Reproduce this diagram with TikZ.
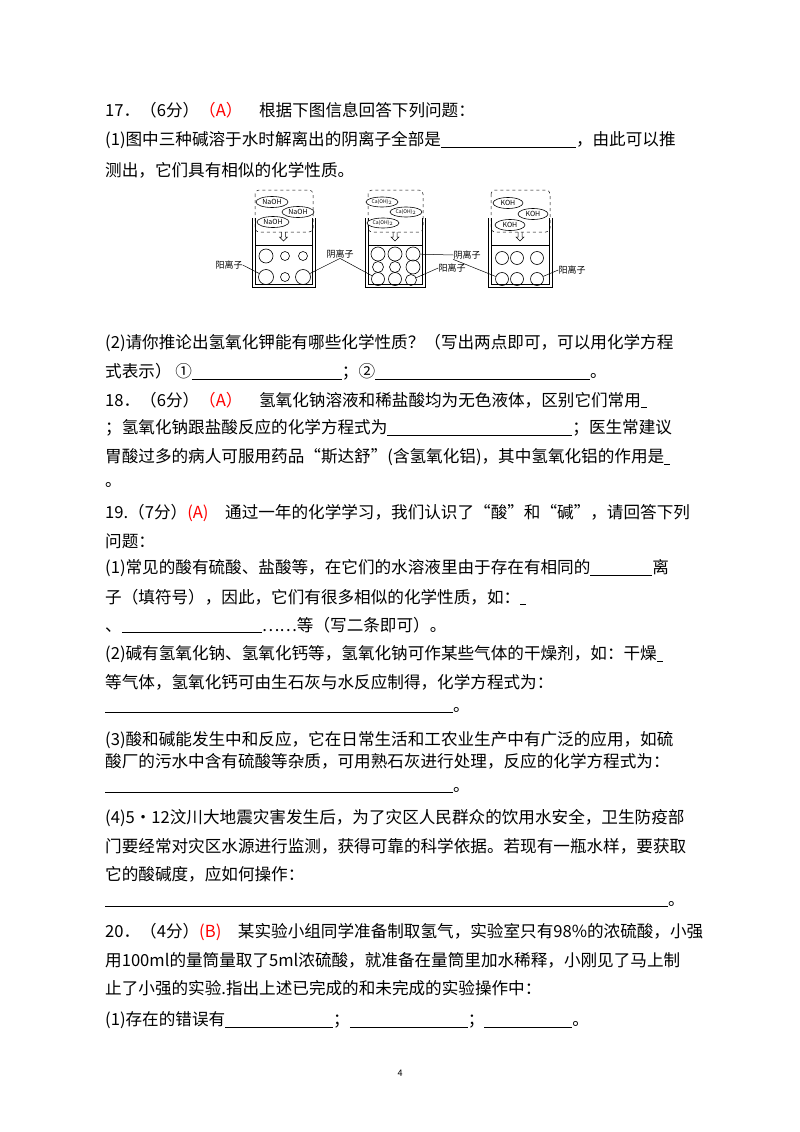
\documentclass[tikz,border=0pt]{standalone}
\usepackage{fontspec}
\usetikzlibrary{shapes.geometric}
\setmainfont{Noto Sans CJK SC}
\newcommand{\blk}[1]{\underline{\hspace{#1pt}}}
\begin{document}
\begin{tikzpicture}[x=1pt,y=-1pt,
  ln/.style={anchor=west,inner sep=0pt,font=\fontsize{16.6}{18}\selectfont},
  sm/.style={inner sep=0pt,font=\fontsize{7}{8}\selectfont},
  db/.style={draw,dashed,rounded corners=4pt,line width=0.5pt},
  ov/.style={draw,ellipse,line width=0.6pt},
  ci/.style={draw,circle,line width=0.6pt,inner sep=0pt},
  lk/.style={line width=0.5pt}]
\useasboundingbox (0,0) rectangle (800,1132);
\node[ln] (l1) at (105,110) {17．（6分）\textcolor{red}{（A）}\quad 根据下图信息回答下列问题：};
\node[ln] (l2) at (105,140) {(1)图中三种碱溶于水时解离出的阴离子全部是\blk{135}，由此可以推};
\node[ln] (l3) at (105,170) {测出，它们具有相似的化学性质。};
\node[ln] (l4) at (105,343) {(2)请你推论出氢氧化钾能有哪些化学性质？（写出两点即可，可以用化学方程};
\node[ln] (l5) at (105,372) {式表示） ①\blk{150}；②\blk{215}。};
\node[ln] (l6) at (105,400) {18．（6分）\textcolor{red}{（A）}\quad 氢氧化钠溶液和稀盐酸均为无色液体，区别它们常用\blk{6}};
\node[ln] (l7) at (105,428) {；氢氧化钠跟盐酸反应的化学方程式为\blk{185}；医生常建议};
\node[ln] (l8) at (105,457) {胃酸过多的病人可服用药品“斯达舒”(含氢氧化铝)，其中氢氧化铝的作用是\blk{6}};
\node[ln] (l9) at (105,485) {。};
\node[ln] (l10) at (105,513) {19.（7分）\textcolor{red}{(A)}\quad 通过一年的化学学习，我们认识了“酸”和“碱”，请回答下列};
\node[ln] (l11) at (105,541) {问题：};
\node[ln] (l12) at (105,568) {(1)常见的酸有硫酸、盐酸等，在它们的水溶液里由于存在有相同的\blk{62}离};
\node[ln] (l13) at (105,597) {子（填符号），因此，它们有很多相似的化学性质，如：\blk{6}};
\node[ln] (l14) at (105,625) {、\blk{140}……等（写二条即可）。};
\node[ln] (l15) at (105,654) {(2)碱有氢氧化钠、氢氧化钙等，氢氧化钠可作某些气体的干燥剂，如：干燥\blk{6}};
\node[ln] (l16) at (105,682) {等气体，氢氧化钙可由生石灰与水反应制得，化学方程式为：};
\node[ln] (l17) at (105,710) {\blk{348}。};
\node[ln] (l18) at (105,740) {(3)酸和碱能发生中和反应，它在日常生活和工农业生产中有广泛的应用，如硫};
\node[ln] (l19) at (105,761) {酸厂的污水中含有硫酸等杂质，可用熟石灰进行处理，反应的化学方程式为：};
\node[ln] (l20) at (105,790) {\blk{348}。};
\node[ln] (l21) at (105,818) {(4)5·12汶川大地震灾害发生后，为了灾区人民群众的饮用水安全，卫生防疫部};
\node[ln] (l22) at (105,846) {门要经常对灾区水源进行监测，获得可靠的科学依据。若现有一瓶水样，要获取};
\node[ln] (l23) at (105,874) {它的酸碱度，应如何操作：};
\node[ln] (l24) at (105,904) {\blk{563}。};
\node[ln] (l25) at (105,932) {20．（4分）\textcolor{red}{(B)}\quad 某实验小组同学准备制取氢气，实验室只有98\%的浓硫酸，小强};
\node[ln] (l26) at (105,960) {用100ml的量筒量取了5ml浓硫酸，就准备在量筒里加水稀释，小刚见了马上制};
\node[ln] (l27) at (105,988) {止了小强的实验.指出上述已完成的和未完成的实验操作中：};
\node[ln] (l28) at (105,1020) {(1)存在的错误有\blk{108}；\blk{118}；\blk{88}。};
\node[inner sep=0pt,font=\small] (pg) at (400,1073) {4};
% beakers
\foreach \a/\b in {252/315,365/425,488/552}{
  \draw[line width=0.6pt] (\a,218) -- (\a,287) -- (\b,287) -- (\b,218);
  \draw[line width=0.6pt] (\a+3,218) -- (\a+3,284) -- (\b-3,284) -- (\b-3,218);
  \draw[line width=0.5pt] (\a+3,245) -- (\b-3,245);
  \draw[db] (\a+3,190) rectangle (\b-2,232);
  \draw[line width=0.5pt] ({(\a+\b)/2-2},232) -- ({(\a+\b)/2-2},237) -- ({(\a+\b)/2-4},237) -- ({(\a+\b)/2},241) -- ({(\a+\b)/2+4},237) -- ({(\a+\b)/2+2},237) -- ({(\a+\b)/2+2},232);
}
\node[ov,sm,fill=white,minimum width=32pt,minimum height=11pt] (n1) at (272,202) {NaOH};
\node[ov,sm,fill=white,minimum width=32pt,minimum height=11pt] (n2) at (298,212) {NaOH};
\node[ov,sm,fill=white,minimum width=32pt,minimum height=11pt] (n3) at (273,222) {NaOH};
\node[ov,sm,fill=white,font=\fontsize{5}{6}\selectfont,minimum width=32pt,minimum height=10pt] (c1) at (382,202) {Ca(OH)$_2$};
\node[ov,sm,fill=white,font=\fontsize{5}{6}\selectfont,minimum width=32pt,minimum height=10pt] (c2) at (406,212) {Ca(OH)$_2$};
\node[ov,sm,fill=white,font=\fontsize{5}{6}\selectfont,minimum width=32pt,minimum height=10pt] (c3) at (383,223) {Ca(OH)$_2$};
\node[ov,sm,fill=white,minimum width=30pt,minimum height=11pt] (k1) at (508,203) {KOH};
\node[ov,sm,fill=white,minimum width=30pt,minimum height=11pt] (k2) at (533,214) {KOH};
\node[ov,sm,fill=white,minimum width=30pt,minimum height=11pt] (k3) at (510,225) {KOH};
% circles beaker 1
\node[ci,minimum size=14pt] (a1) at (266,256) {};
\node[ci,minimum size=9pt] (a2) at (285,256) {};
\node[ci,minimum size=9pt] (a3) at (303,256) {};
\node[ci,minimum size=15pt] (a4) at (266,277) {};
\node[ci,minimum size=9pt] (a5) at (285,277) {};
\node[ci,minimum size=15pt] (a6) at (303,277) {};
% beaker 2
\node[ci,minimum size=14pt] (b11) at (378,254) {};
\node[ci,minimum size=14pt] (b12) at (395,254) {};
\node[ci,minimum size=14pt] (b13) at (413,254) {};
\node[ci,minimum size=11pt] (b21) at (378,267) {};
\node[ci,minimum size=11pt] (b22) at (395,267) {};
\node[ci,minimum size=14pt] (b23) at (413,267) {};
\node[ci,minimum size=13pt] (b31) at (378,279) {};
\node[ci,minimum size=13pt] (b32) at (395,279) {};
\node[ci,minimum size=11pt] (b33) at (411,280) {};
% beaker 3
\foreach \i/\x in {1/502,2/517,3/537}{
  \node[ci,minimum size=13pt] (d1\i) at (\x,258) {};
  \node[ci,minimum size=13pt] (d2\i) at (\x,279) {};
}
% labels
\node[sm,font=\fontsize{9}{10}\selectfont] (y1) at (229,265) {阳离子};
\node[sm,font=\fontsize{9}{10}\selectfont] (y2) at (340,254) {阴离子};
\node[sm,font=\fontsize{9}{10}\selectfont] (y3) at (467,255) {阴离子};
\node[sm,font=\fontsize{9}{10}\selectfont] (y4) at (452,268) {阳离子};
\node[sm,font=\fontsize{9}{10}\selectfont] (y5) at (572,270) {阳离子};
\draw[lk] (y1.east) -- (a4);
\draw[lk] (y2.south) -- (a6);
\draw[lk] (y2.south) -- (b31);
\draw[lk] (y3.west) -- (b13);
\draw[lk] (y3.south west) -- (d21);
\draw[lk] (y4.west) -- (b33);
\draw[lk] (y5.west) -- (d23);
\end{tikzpicture}
\end{document}
